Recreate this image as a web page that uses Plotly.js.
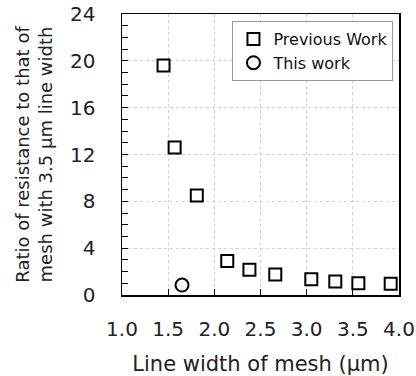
<!DOCTYPE html>
<html><head><meta charset="utf-8">
<script src="https://cdn.plot.ly/plotly-3.0.1.min.js"></script>
<style>html,body{margin:0;padding:0;background:#fff}#chart{width:416px;height:376px}</style>
</head><body><div id="chart"></div>
<script>
const prevX = [1.45, 1.57, 1.81, 2.14, 2.38, 2.66, 3.05, 3.31, 3.56, 3.91];
const prevY = [19.6, 12.6, 8.5, 2.9, 2.15, 1.75, 1.35, 1.15, 1.0, 0.97];
const thisX = [1.65];
const thisY = [0.85];
const xTicks = [1.0, 1.5, 2.0, 2.5, 3.0, 3.5, 4.0];
const yTicks = [0, 4, 8, 12, 16, 20, 24];
const FONT = 'DejaVu Sans, Verdana, sans-serif';

const traces = [
  {x: prevX, y: prevY, name: 'Previous Work', type: 'scatter', mode: 'markers',
   marker: {symbol: 'square-open', size: 12, color: '#000', line: {width: 2, color: '#000'}}},
  {x: thisX, y: thisY, name: 'This work', type: 'scatter', mode: 'markers',
   marker: {symbol: 'circle-open', size: 13, color: '#000', line: {width: 2, color: '#000'}}}
];

const layout = {
  width: 416, height: 376,
  margin: {l: 122, r: 17, t: 14, b: 81},
  paper_bgcolor: '#fff', plot_bgcolor: '#fff',
  font: {family: FONT, color: '#222'},
  showlegend: true,
  legend: {x: 0.98, y: 0.975, xanchor: 'right', yanchor: 'top',
           bordercolor: '#999', borderwidth: 1, bgcolor: '#fff',
           font: {size: 16, family: FONT, color: '#111'}, itemwidth: 30, tracegroupgap: 4},
  xaxis: {
    range: [1.0, 4.0], tickvals: xTicks, ticktext: xTicks.map(v => v.toFixed(1)),
    ticks: 'inside', ticklen: 6, tickcolor: '#000', tickwidth: 1,
    showline: true, linecolor: '#000', linewidth: 1.5, mirror: true,
    showgrid: true, gridcolor: '#d0d0d0', griddash: '3px,3px', gridwidth: 1,
    zeroline: false, tickfont: {size: 20, family: FONT, color: '#222'},
    ticklabelstandoff: 15,
    title: {text: 'Line width of mesh (μm)', font: {size: 21, family: FONT, color: '#222'}, standoff: 19}
  },
  yaxis: {
    range: [0, 24], tickvals: yTicks,
    ticks: 'inside', ticklen: 6, tickcolor: '#000', tickwidth: 1,
    minor: {dtick: 1, ticks: 'inside', ticklen: 6, tickcolor: '#000', showgrid: false},
    showline: true, linecolor: '#000', linewidth: 1.5, mirror: true,
    showgrid: true, gridcolor: '#d0d0d0', griddash: '3px,3px', gridwidth: 1,
    zeroline: false, tickfont: {size: 20, family: FONT, color: '#222'},
    ticklabelstandoff: 21,
    title: {text: 'Ratio of resistance to that of<br>mesh with 3.5 μm line width', font: {size: 18, family: FONT, color: '#222'}, standoff: 12}
  }
};
Plotly.newPlot('chart', traces, layout, {displayModeBar: false, staticPlot: true});
</script></body></html>
